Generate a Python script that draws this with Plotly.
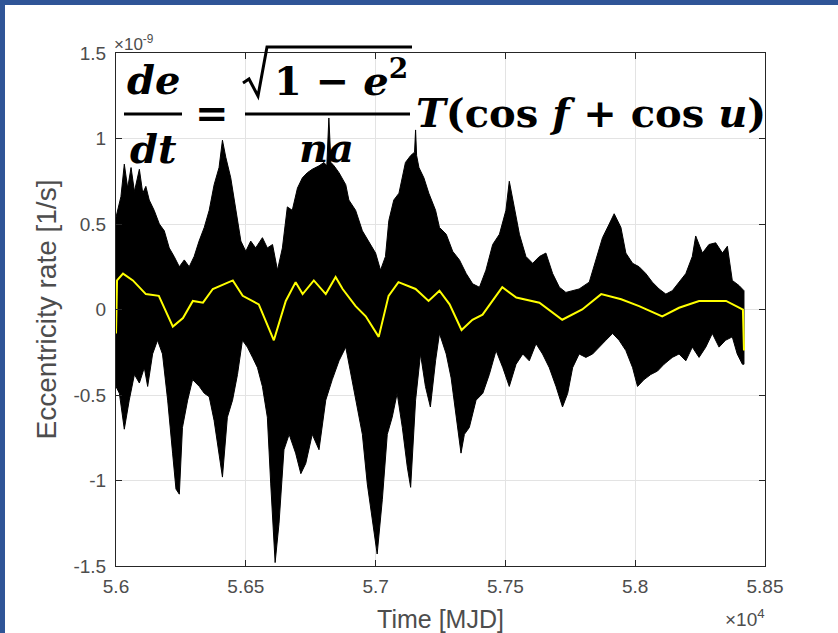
import plotly.graph_objects as go

# ---------------- data (values in units of 1e-9 1/s, time in MJD) ----------------
upper_mjd = [56000, 56019, 56032, 56045, 56058, 56071, 56090, 56103, 56115, 56128,
             56147, 56167, 56186, 56205, 56224, 56244, 56263, 56282, 56301, 56320,
             56340, 56359, 56378, 56397, 56410, 56423, 56442, 56462, 56481, 56500,
             56519, 56538, 56564, 56583, 56603, 56622, 56641, 56660, 56679, 56699,
             56718, 56737, 56756, 56782, 56801, 56812, 56820, 56828, 56840, 56859,
             56885, 56897, 56923, 56949, 56974, 57000, 57019, 57038, 57051, 57070,
             57090, 57115, 57135, 57150, 57154, 57158, 57167, 57186, 57205, 57231,
             57246, 57272, 57297, 57323, 57349, 57374, 57400, 57425, 57451, 57477,
             57502, 57515, 57534, 57554, 57579, 57605, 57631, 57656, 57682, 57708,
             57733, 57784, 57823, 57849, 57874, 57900, 57919, 57945, 57964, 57990,
             58015, 58041, 58066, 58092, 58118, 58143, 58169, 58195, 58220, 58233,
             58259, 58284, 58310, 58336, 58355, 58374, 58400, 58419]
upper_rate = [0.54, 0.66, 0.85, 0.71, 0.83, 0.69, 0.82, 0.68, 0.72, 0.64,
              0.58, 0.50, 0.46, 0.36, 0.31, 0.25, 0.29, 0.25, 0.31, 0.40,
              0.48, 0.58, 0.73, 0.83, 0.99, 0.89, 0.77, 0.58, 0.40, 0.34,
              0.40, 0.36, 0.42, 0.36, 0.38, 0.23, 0.36, 0.60, 0.58, 0.71,
              0.77, 0.80, 0.82, 0.84, 0.86, 0.84, 1.12, 0.86, 0.84, 0.80,
              0.73, 0.64, 0.58, 0.46, 0.40, 0.33, 0.23, 0.31, 0.52, 0.64,
              0.68, 0.86, 0.90, 0.92, 1.05, 0.90, 0.83, 0.77, 0.68, 0.58,
              0.48, 0.44, 0.34, 0.29, 0.21, 0.15, 0.13, 0.23, 0.38, 0.44,
              0.58, 0.75, 0.60, 0.44, 0.31, 0.27, 0.31, 0.33, 0.21, 0.13,
              0.10, 0.12, 0.16, 0.29, 0.42, 0.50, 0.56, 0.48, 0.33, 0.27,
              0.25, 0.21, 0.16, 0.12, 0.09, 0.11, 0.16, 0.21, 0.31, 0.43,
              0.33, 0.38, 0.39, 0.33, 0.37, 0.17, 0.14, 0.11]

lower_mjd = [56000, 56013, 56032, 56051, 56071, 56090, 56109, 56122, 56141, 56160,
             56179, 56199, 56218, 56231, 56244, 56256, 56276, 56295, 56321, 56340,
             56359, 56378, 56397, 56410, 56429, 56449, 56468, 56487, 56506, 56526,
             56545, 56564, 56583, 56596, 56613, 56628, 56647, 56667, 56692, 56712,
             56731, 56756, 56782, 56808, 56833, 56859, 56885, 56910, 56929, 56949,
             56968, 56987, 57006, 57026, 57045, 57064, 57083, 57103, 57122, 57135,
             57154, 57173, 57192, 57211, 57231,
             57246, 57272, 57291, 57310, 57329, 57342, 57361, 57387, 57413, 57438,
             57464, 57490, 57515, 57541, 57567, 57592, 57618, 57643, 57669, 57695,
             57720, 57740, 57759, 57784, 57810, 57836, 57861, 57887, 57913, 57938,
             57964, 57990, 58009, 58034, 58060, 58086, 58111, 58143, 58169, 58195,
             58220, 58246, 58272, 58297, 58323, 58348, 58374, 58393, 58413, 58419]
lower_rate = [-0.45, -0.49, -0.70, -0.53, -0.38, -0.43, -0.34, -0.45, -0.26, -0.18,
              -0.26, -0.53, -0.84, -1.05, -1.08, -0.69, -0.53, -0.41, -0.45, -0.49,
              -0.51, -0.65, -0.84, -0.98, -0.63, -0.53, -0.38, -0.18, -0.22, -0.28,
              -0.34, -0.45, -0.63, -1.02, -1.48, -1.25, -0.82, -0.73, -0.84, -0.96,
              -0.90, -0.73, -0.82, -0.53, -0.41, -0.30, -0.22, -0.41, -0.57, -0.73,
              -1.02, -1.23, -1.43, -1.11, -0.73, -0.63, -0.49, -0.69, -0.92, -1.04,
              -0.53, -0.26, -0.45, -0.57, -0.30,
              -0.14, -0.26, -0.40, -0.63, -0.84, -0.73, -0.69, -0.53, -0.49, -0.38,
              -0.24, -0.34, -0.45, -0.32, -0.26, -0.30, -0.20, -0.26, -0.34, -0.45,
              -0.57, -0.49, -0.34, -0.26, -0.28, -0.26, -0.22, -0.18, -0.14, -0.18,
              -0.24, -0.34, -0.45, -0.41, -0.38, -0.36, -0.32, -0.28, -0.26, -0.30,
              -0.22, -0.28, -0.22, -0.14, -0.22, -0.18, -0.16, -0.26, -0.32, -0.32]

mean_mjd = [56000, 56004, 56027, 56065, 56115, 56165, 56219, 56258, 56296, 56335,
            56373, 56450, 56488, 56550, 56608, 56654, 56692, 56719, 56762, 56808,
            56846, 56873, 56923, 56962, 57012, 57050, 57088, 57154, 57204, 57246,
            57285, 57331, 57373, 57412, 57488, 57542, 57631, 57719, 57796, 57869,
            57946, 58015, 58104, 58169, 58246, 58350, 58415, 58419]
mean_rate = [-0.14, 0.17, 0.21, 0.17, 0.09, 0.08, -0.10, -0.05, 0.05, 0.04,
             0.12, 0.17, 0.08, 0.03, -0.18, 0.05, 0.16, 0.09, 0.17, 0.09,
             0.19, 0.12, 0.02, -0.04, -0.16, 0.08, 0.16, 0.12, 0.05, 0.11,
             0.03, -0.12, -0.06, -0.03, 0.13, 0.07, 0.04, -0.06, 0.00, 0.09,
             0.06, 0.02, -0.04, 0.01, 0.05, 0.05, 0.00, -0.24]

x_tickvals = [56000, 56500, 57000, 57500, 58000, 58500]
x_ticktext = ["5.6", "5.65", "5.7", "5.75", "5.8", "5.85"]
y_tickvals = [-1.5, -1, -0.5, 0, 0.5, 1, 1.5]
y_ticktext = ["-1.5", "-1", "-0.5", "0", "0.5", "1", "1.5"]

# ---------------- figure ----------------
W, H = 838, 633
L, R, T, B = 116, 765, 53, 566


def px(x):
    return (x - L) / (R - L)


def py(y):
    return (B - y) / (B - T)


fig = go.Figure()

fig.add_trace(go.Scatter(
    x=upper_mjd + lower_mjd[::-1],
    y=upper_rate + lower_rate[::-1],
    mode="lines", fill="toself", fillcolor="black",
    line=dict(color="black", width=1), hoverinfo="skip", showlegend=False))

fig.add_trace(go.Scatter(
    x=mean_mjd, y=mean_rate, mode="lines",
    line=dict(color="#FFFF00", width=2), showlegend=False))

sans = "Liberation Sans, Arial, sans-serif"
tickfont = dict(family=sans, size=19, color="#4D4D4D")
axcommon = dict(showline=True, linecolor="#262626", linewidth=1, mirror="ticks",
                ticks="inside", ticklen=6, tickcolor="#262626",
                showgrid=True, gridcolor="#E3E3E3", gridwidth=1,
                zeroline=False, tickfont=tickfont, automargin=False)

fig.update_layout(
    width=W, height=H,
    margin=dict(l=L, r=W - R, t=T, b=H - B),
    paper_bgcolor="white", plot_bgcolor="white",
    xaxis=dict(range=[56000, 58500], tickvals=x_tickvals, ticktext=x_ticktext,
               ticklabelstandoff=3,
               title=dict(text="Time [MJD]", standoff=16,
                          font=dict(family=sans, size=25, color="#4D4D4D")),
               **axcommon),
    yaxis=dict(range=[-1.5, 1.5], tickvals=y_tickvals, ticktext=y_ticktext,
               ticklabelstandoff=5,
               title=dict(text="Eccentricity rate [1/s]", standoff=8,
                          font=dict(family=sans, size=28, color="#4D4D4D")),
               **axcommon),
)

ann = []
ann.append(dict(xref="paper", yref="paper", x=px(112), y=py(43), xanchor="left",
                yanchor="middle", showarrow=False,
                text="×10<sup>-9</sup>",
                font=dict(family=sans, size=17, color="#4D4D4D")))
ann.append(dict(xref="paper", yref="paper", x=px(767), y=py(618), xanchor="right",
                yanchor="middle", showarrow=False,
                text="×10<sup>4</sup>",
                font=dict(family=sans, size=19, color="#4D4D4D")))

eqfont = dict(family="DejaVu Serif, Liberation Serif, serif", size=40, color="black")


def eq(text, x, y, xa="center"):
    ann.append(dict(xref="paper", yref="paper", x=px(x), y=py(y), xanchor=xa,
                    yanchor="middle", showarrow=False, text=text, font=eqfont))


eq("<b><i>de</i></b>", 153, 79)
eq("<b><i>dt</i></b>", 153, 148)
eq("<b>=</b>", 212, 112)
eq("<b>1 − <i>e</i><sup>2</sup></b>", 341, 78)
eq("<b><i>na</i></b>", 326, 147)
eq("<b><i>T</i>(cos <i>f</i> + cos <i>u</i>)</b>", 414, 112, xa="left")

fig.update_layout(annotations=ann)

radical = "M {} {} L {} {} L {} {} L {} {} L {} {}".format(
    px(243), py(83), px(249), py(79), px(258), py(96), px(267), py(47), px(412), py(47))

shapes = [
    # fraction bars and radical sign
    dict(type="line", xref="paper", yref="paper", x0=px(124), x1=px(182),
         y0=py(114), y1=py(114), line=dict(color="black", width=3)),
    dict(type="line", xref="paper", yref="paper", x0=px(245), x1=px(410),
         y0=py(114), y1=py(114), line=dict(color="black", width=3)),
    dict(type="path", xref="paper", yref="paper", path=radical,
         line=dict(color="black", width=3)),
    # blue slide frame
    dict(type="rect", xref="paper", yref="paper", x0=px(-5), x1=px(W + 5),
         y0=py(5), y1=py(-5), fillcolor="#2F5597", line=dict(width=0), layer="above"),
    dict(type="rect", xref="paper", yref="paper", x0=px(-5), x1=px(5),
         y0=py(H + 5), y1=py(-5), fillcolor="#2F5597", line=dict(width=0), layer="above"),
]
fig.update_layout(shapes=shapes)

fig.write_html("out.html")
